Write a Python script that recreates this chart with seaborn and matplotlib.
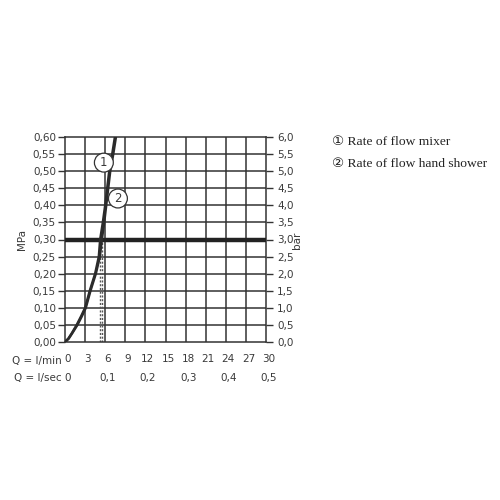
import matplotlib
matplotlib.use("Agg")
import matplotlib.pyplot as plt
import matplotlib.transforms as mtransforms
import seaborn as sns
import pandas as pd

# ---- data ----
q_mixer = [0, 0.5, 1.0, 1.75, 2.4, 3.0, 3.7, 4.5, 5.05, 5.25, 5.65, 6.0, 6.6, 7.05, 7.45]
p_mixer = [0, 0.01, 0.025, 0.05, 0.075, 0.10, 0.15, 0.20, 0.25, 0.30, 0.35, 0.40, 0.50, 0.55, 0.60]
q_hand = [0, 0.55, 1.05, 1.85, 2.5, 3.1, 3.8, 4.6, 5.2, 5.5, 5.85, 6.15, 6.75, 7.2, 7.6]
p_hand = [0, 0.01, 0.025, 0.05, 0.075, 0.10, 0.15, 0.20, 0.25, 0.30, 0.35, 0.40, 0.50, 0.55, 0.60]
dotted_q = [5.25, 5.5]
ref_pressure = 0.30

lmin_ticks = [0, 3, 6, 9, 12, 15, 18, 21, 24, 27, 30]
lsec_vals = [0, 6, 12, 18, 24, 30]
lsec_labels = ["0", "0,1", "0,2", "0,3", "0,4", "0,5"]
mpa_ticks = [0.00, 0.05, 0.10, 0.15, 0.20, 0.25, 0.30, 0.35, 0.40, 0.45, 0.50, 0.55, 0.60]
mpa_labels = ["0,00", "0,05", "0,10", "0,15", "0,20", "0,25", "0,30",
              "0,35", "0,40", "0,45", "0,50", "0,55", "0,60"]
bar_labels = ["0,0", "0,5", "1,0", "1,5", "2,0", "2,5", "3,0",
              "3,5", "4,0", "4,5", "5,0", "5,5", "6,0"]
legend_items = ["\u2460 Rate of flow mixer", "\u2461 Rate of flow hand shower"]
curve_marks = [("1", 5.8, 0.525), ("2", 7.9, 0.42)]

sns.set_style("white")
plt.rcParams["font.family"] = ["DejaVu Sans"]

fig = plt.figure(figsize=(5, 5), dpi=100)
ax = fig.add_axes([0.13, 0.316, 0.402, 0.41])

txt_col = "#3a3a3a"
grid_col = "#333333"
fs = 7.5

ax.set_xlim(0, 30)
ax.set_ylim(0, 0.60)
for v in lmin_ticks[1:-1]:
    ax.axvline(v, color=grid_col, lw=1.1, zorder=1)
for v in mpa_ticks[1:-1]:
    ax.axhline(v, color=grid_col, lw=1.1, zorder=1)
for s in ax.spines.values():
    s.set_color(grid_col)
    s.set_linewidth(1.1)

ax.axhline(ref_pressure, color="#222222", lw=3.2, zorder=3)

for q in dotted_q:
    ax.plot([q, q], [0, ref_pressure], color="#555555", lw=1.0,
            ls=(0, (1.5, 1.2)), zorder=2)

df1 = pd.DataFrame({"q": q_mixer, "p": p_mixer})
df2 = pd.DataFrame({"q": q_hand, "p": p_hand})
sns.lineplot(data=df1, x="q", y="p", ax=ax, color="#2b2b2b", lw=1.8, sort=False, zorder=4)
sns.lineplot(data=df2, x="q", y="p", ax=ax, color="#2b2b2b", lw=1.8, sort=False, zorder=4)

for label, x, y in curve_marks:
    ax.text(x, y, label, ha="center", va="center", fontsize=8.5, color=txt_col, zorder=5,
            bbox=dict(boxstyle="circle,pad=0.25", fc="white", ec="#333333", lw=0.9))

ax.set_xlabel("")
ax.set_ylabel("")
ax.set_xticks(lmin_ticks)
ax.set_xticklabels([str(v) for v in lmin_ticks], fontsize=fs, color=txt_col)
ax.set_yticks(mpa_ticks)
ax.set_yticklabels(mpa_labels, fontsize=fs, color=txt_col)
ax.tick_params(axis="x", direction="inout", length=7, width=1.0, color=grid_col, pad=5)
ax.tick_params(axis="y", direction="out", length=5, width=1.0, color=grid_col, pad=1.5)
shift = mtransforms.ScaledTranslation(2.5 / 100, 0, fig.dpi_scale_trans)
for lab in ax.get_xticklabels():
    lab.set_transform(lab.get_transform() + shift)

ax2 = ax.twinx()
ax2.set_ylim(0, 0.60)
ax2.set_yticks(mpa_ticks)
ax2.set_yticklabels(bar_labels, fontsize=fs, color=txt_col)
ax2.tick_params(axis="y", direction="out", length=5, width=1.0, color=grid_col, pad=3)
for s in ax2.spines.values():
    s.set_visible(False)

fig.text(0.043, 0.52, "MPa", rotation=90, ha="center", va="center", fontsize=7.5, color=txt_col)
fig.text(0.594, 0.52, "bar", rotation=90, ha="center", va="center", fontsize=7.5, color=txt_col)

trans = mtransforms.blended_transform_factory(ax.transData, fig.transFigure)
fig.text(0.124, 0.278, "Q = l/min", ha="right", va="center", fontsize=fs, color=txt_col)
fig.text(0.124, 0.244, "Q = l/sec", ha="right", va="center", fontsize=fs, color=txt_col)
for v, lab in zip(lsec_vals, lsec_labels):
    ax.text(v + 0.4, 0.244, lab, transform=trans, ha="center", va="center",
            fontsize=fs, color=txt_col)

for i, item in enumerate(legend_items):
    fig.text(0.664, 0.716 - i * 0.044, item, ha="left", va="center", fontsize=9.7,
             color="#222222", family=["Liberation Serif", "DejaVu Sans"])

fig.savefig("out.png", dpi=100, facecolor="white")
